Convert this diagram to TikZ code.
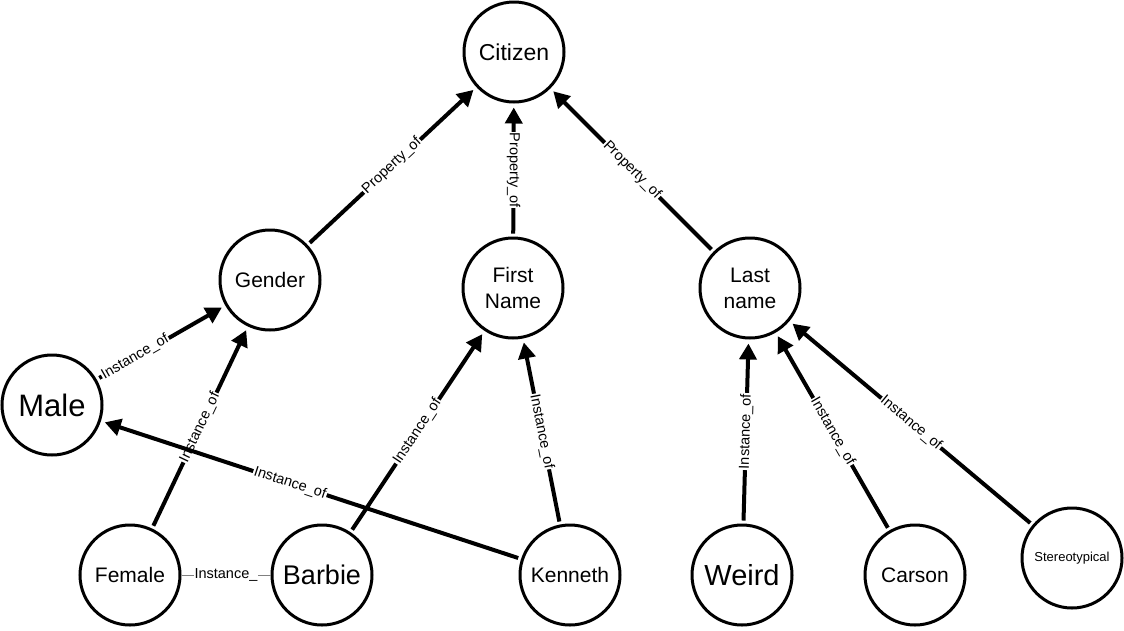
\documentclass[tikz,border=0pt]{standalone}
\usepackage{fontspec}
\setmainfont{Liberation Sans}
\usetikzlibrary{arrows.meta}
\begin{document}
\begin{tikzpicture}[x=1pt,y=-1pt,
  c/.style={circle,draw,line width=3pt,minimum size=100pt,inner sep=0pt,align=center,font=\fontsize{21}{26}\selectfont},
  e/.style={line width=4pt,-{Triangle[length=16pt,width=17pt]},shorten <=3pt,shorten >=4pt},
  l/.style={sloped,fill=white,inner sep=1pt,font=\fontsize{14.5}{16}\selectfont}]
\useasboundingbox (0,0) rectangle (1124,630);
\node[c,font=\fontsize{23}{26}\selectfont] (cit) at (514,52) {Citizen};
\node[c] (gen) at (270,280) {Gender};
\node[c] (fn) at (513,288) {First\\Name};
\node[c] (ln) at (750,288) {Last\\name};
\node[c,font=\fontsize{31}{34}\selectfont] (male) at (52,405) {Male};
\node[c] (fem) at (130,575) {Female};
\node[c,font=\fontsize{27}{30}\selectfont] (bar) at (322,575) {Barbie};
\node[c] (ken) at (570,575) {Kenneth};
\node[c,font=\fontsize{29}{32}\selectfont] (wei) at (742,575) {Weird};
\node[c] (car) at (915,575) {Carson};
\node[c,font=\fontsize{13}{15}\selectfont] (ste) at (1072,558) {Stereotypical};
\draw[e] (gen) -- node[l] {Property\_of} (cit);
\draw[e] (fn) -- node[fill=white,inner sep=1pt,font=\fontsize{14.5}{16}\selectfont,rotate=-90] {Property\_of} (cit);
\draw[e] (ln) -- node[l] {Property\_of} (cit);
\draw[e] (male) -- node[l,pos=0.3] {Instance\_of} (gen);
\draw[e] (fem) -- node[l] {Instance\_of} (gen);
\draw[e] (ken) -- node[l,pos=0.55] {Instance\_of} (male);
\draw[e] (bar) -- node[l] {Instance\_of} (fn);
\draw[e] (ken) -- node[l] {Instance\_of} (fn);
\draw[e] (wei) -- node[l] {Instance\_of} (ln);
\draw[e] (car) -- node[l] {Instance\_of} (ln);
\draw[e] (ste) -- node[l] {Instance\_of} (ln);
\draw[line width=0.8pt,gray] (fem) -- node[l,text=black] {Instance\_} (bar);
\end{tikzpicture}
\end{document}
